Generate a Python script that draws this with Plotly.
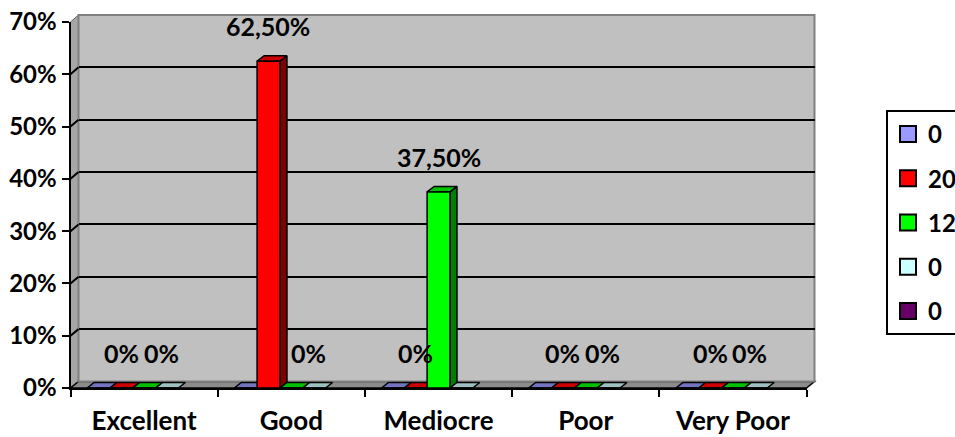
import plotly.graph_objects as go

# ---- data -------------------------------------------------------------
categories = ["Excellent", "Good", "Mediocre", "Poor", "Very Poor"]
series_names = ["0", "20", "12", "0", "0"]
s_blue = [0, 0, 0, 0, 0]
s_red = [0, 0.625, 0, 0, 0]
s_green = [0, 0, 0.375, 0, 0]
s_cyan = [0, 0, 0, 0, 0]
s_purple = [None, None, None, None, None]
y_ticks = [0, 0.1, 0.2, 0.3, 0.4, 0.5, 0.6, 0.7]

series = [s_blue, s_red, s_green, s_cyan, s_purple]
labelled = [1, 2]                      # series that carry data labels

# ---- styling ----------------------------------------------------------
front_col = ["#9999FF", "#FF0000", "#00FF00", "#CCFFFF", "#660066"]
top_col = ["#7373BF", "#CC0000", "#00C000", "#9DBFBF", "#4D004D"]
side_col = ["#4D4D80", "#800000", "#008000", "#668080", "#330033"]
zero_label_dx = {1: 0, 2: 17}          # px nudges for labels of empty bars

W, H = 955, 437
BARGAP = 0.225
N = len(series)
BW = (1 - BARGAP) / N                   # bar width in category units
DX, DY = 0.048, 0.0105                  # bar depth (x units, y units)
YMAX = 0.7
FONT = "Lato"

# pixel frame of the front plane and of the back wall
front_px = dict(x0=70.5, x1=806.5, ybot=388.0, ytop=22.0)
wall_px = dict(x0=78.5, x1=814.5, ybot=381.5, ytop=15.0)

def xd(px):
    return px / W

def yd(py):
    return (H - py) / H

front_dom_x = [xd(front_px["x0"]), xd(front_px["x1"])]
front_dom_y = [yd(front_px["ybot"]), yd(front_px["ytop"])]
wall_dom_x = [xd(wall_px["x0"]), xd(wall_px["x1"])]
wall_dom_y = [yd(wall_px["ybot"]), yd(wall_px["ytop"])]

fig = go.Figure()

# empty trace so the back-wall subplot (x/y) is built and drawn first
fig.add_trace(go.Scatter(x=[None], y=[None], mode="lines", xaxis="x",
                         yaxis="y", showlegend=False, hoverinfo="skip"))

def bar_edges(i, j):
    c = i + (j - (N - 1) / 2) * BW
    return c - BW / 2, c + BW / 2

# ---- 3D faces (top + right side) on the front-plane axes --------------
for j, vals in enumerate(series):
    tx, ty, sx, sy = [], [], [], []
    for i, v in enumerate(vals):
        if v is None:
            continue
        x0, x1 = bar_edges(i, j)
        tx += [x0, x1, x1 + DX, x0 + DX, x0, None]
        ty += [v, v, v + DY, v + DY, v, None]
        if v > 0:
            sx += [x1, x1 + DX, x1 + DX, x1, x1, None]
            sy += [0, DY, v + DY, v, 0, None]
    if sx:
        fig.add_trace(go.Scatter(x=sx, y=sy, mode="lines", fill="toself",
                                 fillcolor=side_col[j],
                                 line=dict(color="black", width=1.5),
                                 xaxis="x2", yaxis="y2", showlegend=False,
                                 hoverinfo="skip"))
    if tx:
        fig.add_trace(go.Scatter(x=tx, y=ty, mode="lines", fill="toself",
                                 fillcolor=top_col[j],
                                 line=dict(color="black", width=1.5),
                                 xaxis="x2", yaxis="y2", showlegend=False,
                                 hoverinfo="skip"))

# ---- bar front faces (overlay axes so they sit above the faces) -------
for j, vals in enumerate(series):
    fig.add_trace(go.Bar(x=list(range(len(categories))), y=vals,
                         name=series_names[j],
                         marker=dict(color=front_col[j],
                                     line=dict(color="black", width=1.5)),
                         xaxis="x3", yaxis="y3", showlegend=False))

# ---- legend entries ---------------------------------------------------
for j in range(N):
    fig.add_trace(go.Scatter(x=[None], y=[None], mode="markers",
                             name=series_names[j], legendgroup=f"g{j}",
                             marker=dict(symbol="square", size=16,
                                         color=front_col[j],
                                         line=dict(color="black", width=2)),
                             xaxis="x2", yaxis="y2"))

# ---- data labels ------------------------------------------------------
def pct_label(v):
    if v == 0:
        return "0%"
    return f"{v * 100:.2f}".replace(".", ",") + "%"

annotations = []
for j in labelled:
    for i, v in enumerate(series[j]):
        x0, x1 = bar_edges(i, j)
        annotations.append(dict(
            x=(x0 + x1) / 2, y=v, xref="x2", yref="y2",
            text=pct_label(v), showarrow=False,
            xshift=0 if v > 0 else zero_label_dx[j], yshift=35,
            xanchor="center", yanchor="middle",
            font=dict(family=FONT, size=25, color="black", weight="bold")))

# ---- walls, floor, side-wall grid links --------------------------------
fx0, fx1 = front_dom_x
fy0, fy1 = front_dom_y
wx0, wx1 = wall_dom_x
wy0, wy1 = wall_dom_y

shapes = [
    # left side wall
    dict(type="path", xref="paper", yref="paper", layer="below",
         path=f"M{fx0},{fy0} L{fx0},{fy1} L{wx0},{wy1} L{wx0},{wy0} Z",
         fillcolor="#A6A6A6", line=dict(color="#606060", width=1)),
    # floor
    dict(type="path", xref="paper", yref="paper", layer="below",
         path=f"M{fx0},{fy0} L{fx1},{fy0} L{wx1},{wy0} L{wx0},{wy0} Z",
         fillcolor="#8C8C8C", line=dict(color="black", width=1.5)),
    # back wall
    dict(type="rect", xref="x domain", yref="y domain", layer="below",
         x0=0, x1=1, y0=0, y1=1, fillcolor="#C0C0C0",
         line=dict(color="#808080", width=2)),
]
for t in y_ticks[1:-1]:
    f = t / YMAX
    shapes.append(dict(type="line", xref="paper", yref="paper", layer="below",
                       x0=fx0, x1=wx0,
                       y0=fy0 + f * (fy1 - fy0), y1=wy0 + f * (wy1 - wy0),
                       line=dict(color="black", width=2)))

tick_font = dict(family=FONT, size=24, color="black", weight="bold")

fig.update_layout(
    width=W, height=H,
    margin=dict(l=0, r=0, t=0, b=0, autoexpand=False),
    paper_bgcolor="white", plot_bgcolor="rgba(0,0,0,0)",
    font=dict(family=FONT, color="black", weight="bold"),
    barmode="group", bargap=BARGAP, bargroupgap=0,
    shapes=shapes, annotations=annotations,
    # back wall axes (grid only)
    xaxis=dict(domain=wall_dom_x, anchor="y", range=[0, 1],
               showgrid=False, zeroline=False, showline=False,
               showticklabels=False, ticks="", fixedrange=True),
    yaxis=dict(domain=wall_dom_y, anchor="x", range=[0, YMAX],
               tickmode="array", tickvals=y_ticks, showticklabels=False,
               ticks="", showgrid=True, gridcolor="black", gridwidth=2,
               zeroline=False, showline=False, fixedrange=True),
    # front plane axes (axis lines, ticks, labels, 3D faces)
    xaxis2=dict(domain=front_dom_x, anchor="y2", range=[-0.5, 4.5],
                tickmode="array", tickvals=list(range(len(categories))),
                ticktext=categories, ticks="", ticklabelstandoff=9,
                tickfont=dict(family=FONT, size=26, color="black",
                              weight="bold"),
                minor=dict(tickmode="array",
                           tickvals=[k - 0.5 for k in range(len(categories) + 1)],
                           ticks="outside", ticklen=7, tickwidth=2,
                           tickcolor="black", showgrid=False),
                showgrid=False, zeroline=False,
                showline=True, linecolor="black", linewidth=2,
                fixedrange=True),
    yaxis2=dict(domain=front_dom_y, anchor="x2", range=[0, YMAX],
                tickmode="array", tickvals=y_ticks, tickformat=".0%",
                ticks="outside", ticklen=7, tickwidth=2, tickcolor="black",
                tickfont=tick_font, showgrid=False, zeroline=False,
                showline=True, linecolor="black", linewidth=2,
                fixedrange=True),
    # overlay axes carrying the bar fronts
    xaxis3=dict(overlaying="x2", anchor="y3", range=[-0.5, 4.5],
                visible=False, fixedrange=True),
    yaxis3=dict(overlaying="y2", anchor="x3", range=[0, YMAX],
                visible=False, fixedrange=True),
    legend=dict(x=xd(886), y=yd(110), xanchor="left", yanchor="top",
                bgcolor="white", bordercolor="black", borderwidth=2,
                font=dict(family=FONT, size=24, color="black",
                          weight="bold"),
                tracegroupgap=10, itemsizing="trace"),
)

fig.write_html("out.html")
